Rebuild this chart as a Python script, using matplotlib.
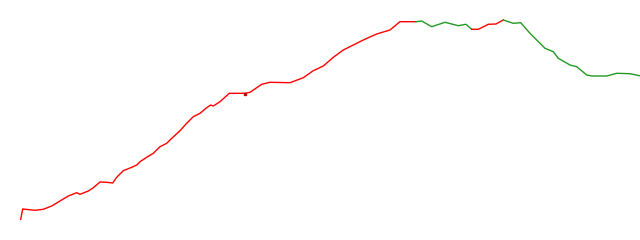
import matplotlib
matplotlib.use("Agg")
import matplotlib.pyplot as plt

# values (x = sample position, y = level)
rise1_x = [20.7, 22.7, 35, 43.3, 51.7, 60, 68.3, 76.7, 80, 88.3, 93.3, 100, 106.7, 112.7,
           116.7, 123.3, 131.7, 136.7, 140, 146.7, 153.3, 160, 166.7, 170, 180, 186.7,
           193.3, 200, 206.7, 210.7, 213.3, 220, 229.3, 245, 250, 261.7, 270, 290, 303.3,
           313.3, 323.3, 333.3, 343.3, 353.3, 363.3, 376.7, 390, 400, 416]
rise1_y = [219.3, 209, 210.3, 209.3, 206, 201, 196, 192.7, 194.3, 191, 187.7, 182, 182.3, 183,
           177.3, 170.7, 167.3, 165, 161.7, 157.3, 153.3, 146.7, 143.3, 140, 130.7, 123.3,
           116.7, 113.3, 107.7, 105, 106, 101.7, 93.3, 93.3, 92.3, 84.3, 82.3, 82.7, 77.7,
           70.7, 66, 57.3, 50, 45, 40, 34, 30, 21.7, 21.7]
fall1_x = [416, 421.7, 431.7, 445, 458.3, 466, 471.7]
fall1_y = [21.7, 21, 26.7, 22.3, 25.7, 24.3, 29.3]
rise2_x = [471.7, 478.3, 488.3, 496, 503.3]
rise2_y = [29.3, 29.3, 24.3, 24, 20]
fall2_x = [503.3, 513.3, 520.7, 530, 545, 553.3, 558.3, 570, 576.7, 586.7, 591.7, 606.7,
           616.7, 630, 639.3]
fall2_y = [20, 23.3, 22.7, 33.3, 48.3, 51.7, 58.3, 65, 66.7, 75, 76, 76, 73.3, 73.7, 75.7]
mark_x = [245]
mark_y = [94]

fig = plt.figure(figsize=(6.4, 2.4), dpi=100)
ax = fig.add_axes([0, 0, 1, 1])

ax.plot(rise1_x, rise1_y, color='red', linewidth=1)
ax.plot(fall1_x, fall1_y, color='#229922', linewidth=1)
ax.plot(rise2_x, rise2_y, color='red', linewidth=1)
ax.plot(fall2_x, fall2_y, color='#229922', linewidth=1)
ax.plot(mark_x, mark_y, 's', color='#cc0000', markersize=2)

ax.set_xlim(0, 640)
ax.set_ylim(240, 0)
ax.axis('off')

fig.savefig('out.png', dpi=100)
